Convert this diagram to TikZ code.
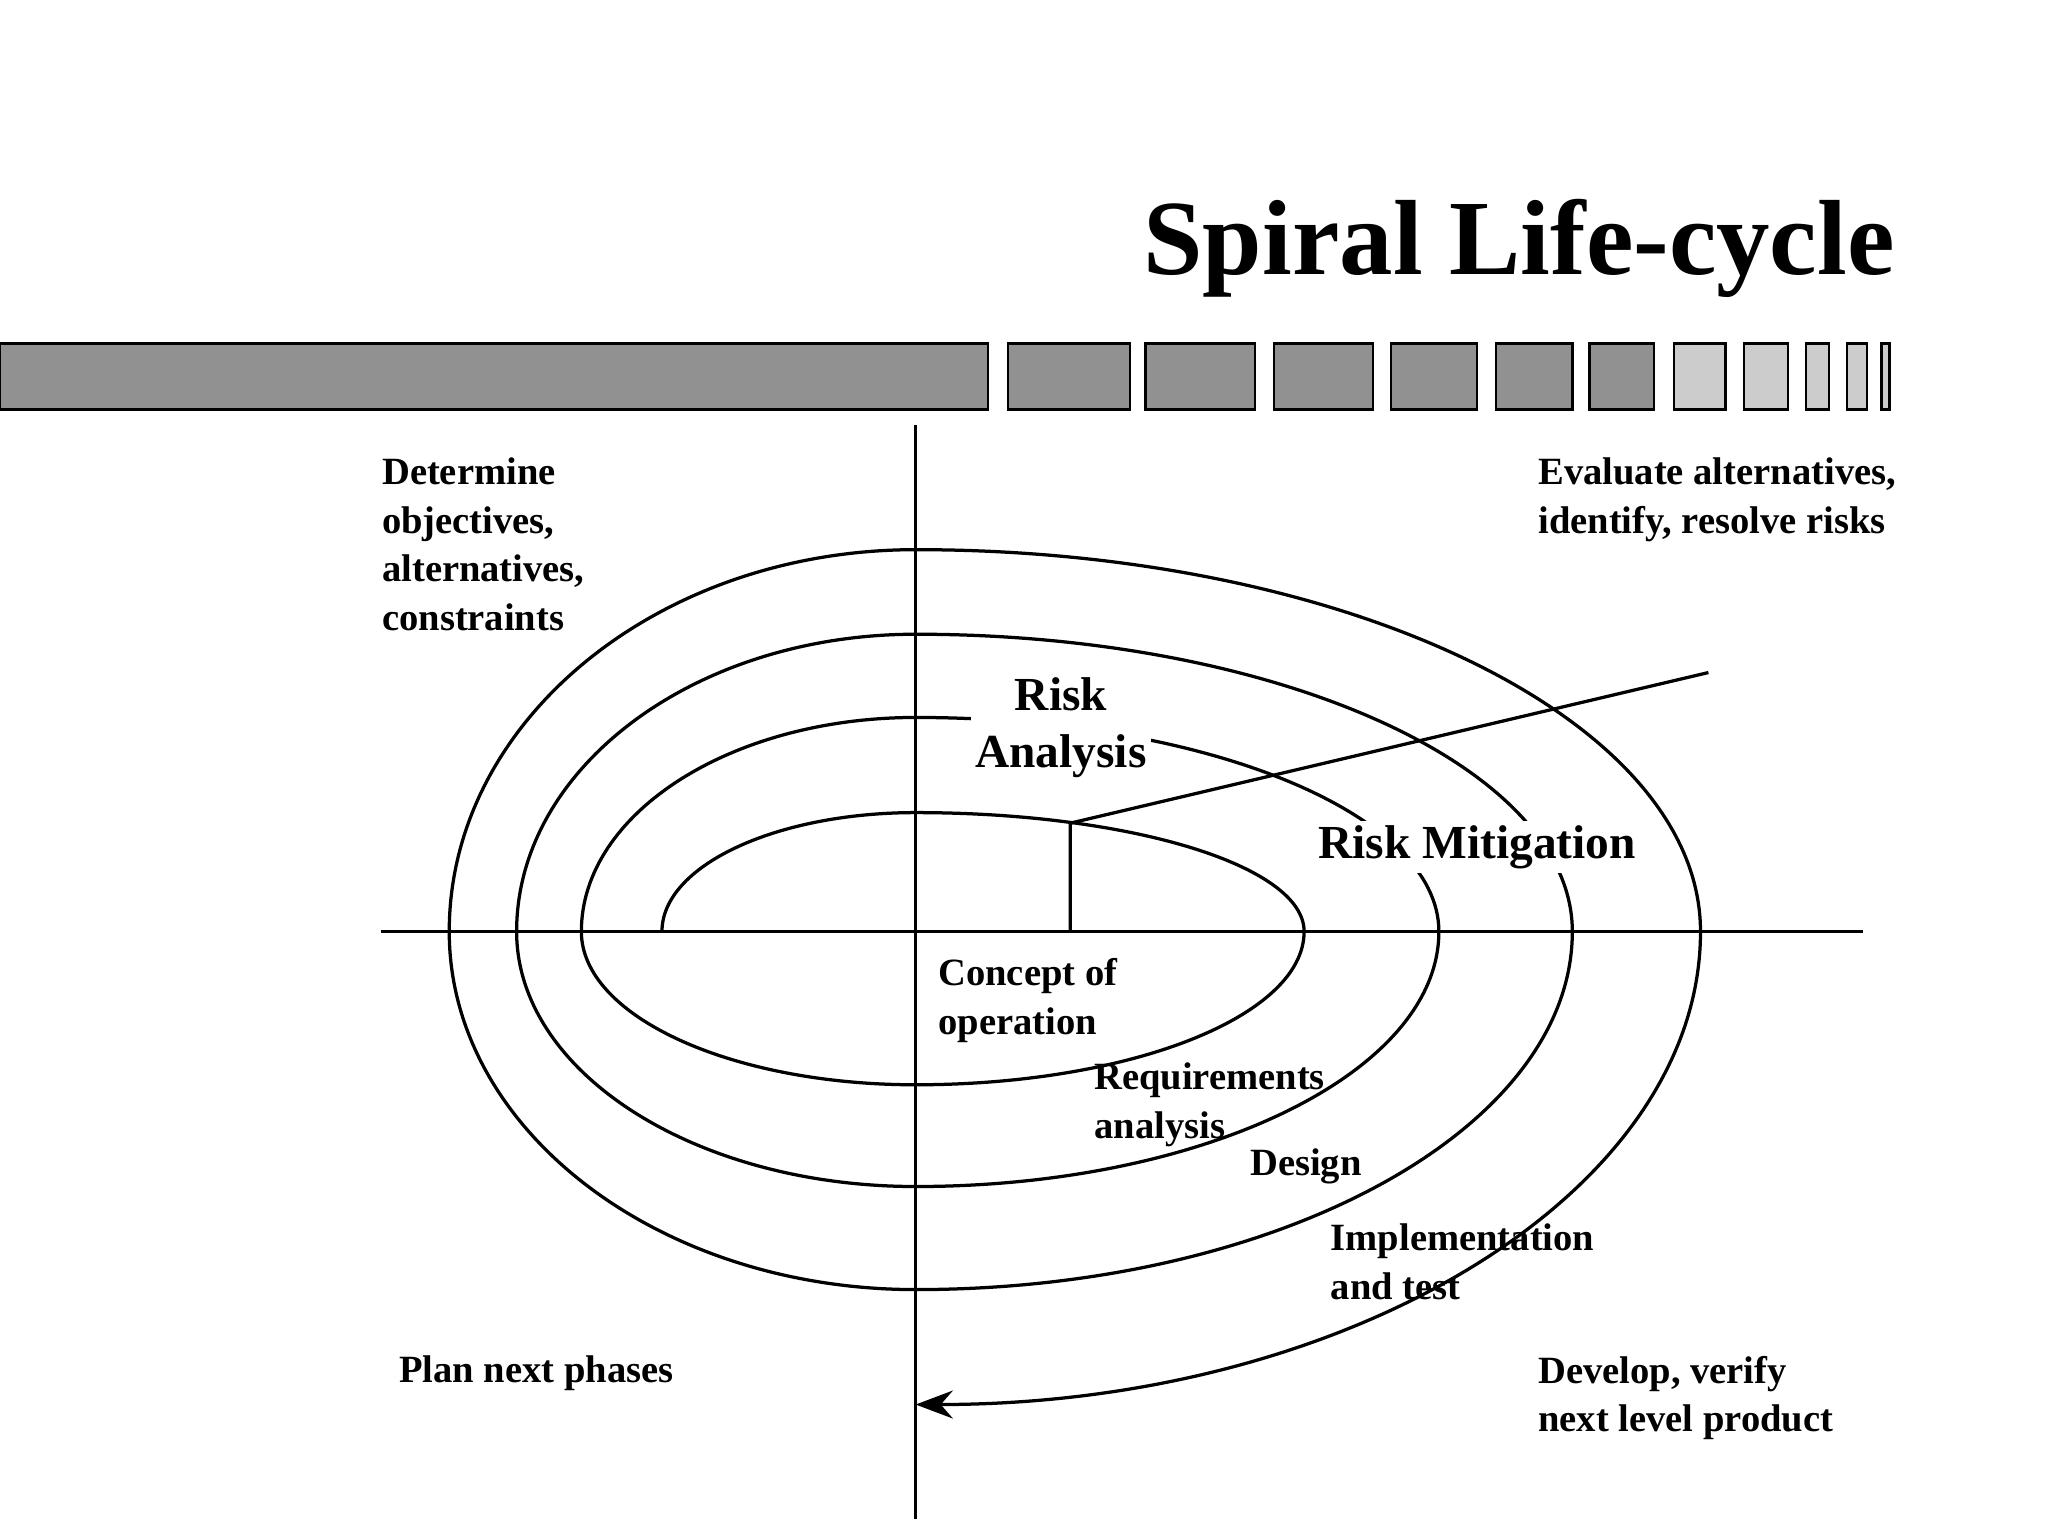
\documentclass[tikz,border=0pt]{standalone}
\usepackage{fontspec}
\setmainfont{Liberation Serif}
\usetikzlibrary{arrows.meta}
\begin{document}
\begin{tikzpicture}[x=0.01cm,y=0.01cm,line width=0.7pt,
  lbl/.style={anchor=north west,inner sep=0pt,align=left,font=\fontsize{8.3}{10.5}\selectfont\bfseries},
  big/.style={fill=white,inner sep=1pt,align=center,font=\fontsize{10.2}{12.3}\selectfont\bfseries},
  dark/.style={draw,fill=black!43,line width=0.5pt},
  light/.style={draw,fill=black!20,line width=0.5pt}]
\useasboundingbox (0,0) rectangle (1550,1162);
% title and bar
\node (title) at (1435,974) [anchor=east,inner sep=0pt,font=\fontsize{23}{26}\selectfont\bfseries] {Spiral Life-cycle};
\foreach \a/\b in {0/748,763/855,867/950,964/1039,1053/1118,1132/1190,1203/1252}
  \draw[dark] (\a,852) rectangle (\b,902);
\foreach \a/\b in {1267/1306,1320/1353,1367/1384,1398/1413,1424/1430}
  \draw[light] (\a,852) rectangle (\b,902);
% axes
\coordinate (o) at (693,457);
\draw (693,840) -- (693,12);
\draw (288,457) -- (1410,457);
% spiral
\draw (501,457) arc[start angle=180,end angle=90,x radius=192,y radius=90]
  arc[start angle=90,end angle=0,x radius=294,y radius=90]
  arc[start angle=0,end angle=-90,x radius=294,y radius=116]
  arc[start angle=-90,end angle=-180,x radius=253,y radius=116]
  arc[start angle=180,end angle=90,x radius=253,y radius=162]
  arc[start angle=90,end angle=0,x radius=396,y radius=162]
  arc[start angle=0,end angle=-90,x radius=396,y radius=193]
  arc[start angle=-90,end angle=-180,x radius=302,y radius=193]
  arc[start angle=180,end angle=90,x radius=302,y radius=225]
  arc[start angle=90,end angle=0,x radius=497,y radius=225]
  arc[start angle=0,end angle=-90,x radius=497,y radius=271]
  arc[start angle=-90,end angle=-180,x radius=353,y radius=271]
  arc[start angle=180,end angle=90,x radius=353,y radius=289]
  arc[start angle=90,end angle=0,x radius=594,y radius=289];
\draw[-{Stealth[length=8pt,width=6pt]}] (1287,457) arc[start angle=0,end angle=-90,x radius=594,y radius=358];
% risk wedge
\coordinate (w) at (810,539);
\coordinate (wa) at (810,457);
\coordinate (wb) at (1293,653);
\draw (wa) -- (w) -- (wb);
% labels
\node (ra) at (803,611) [big] {Risk\\Analysis};
\node (rm) at (1118,521) [big] {Risk Mitigation};
\node (q1) at (288,817) [lbl] {Determine\\objectives,\\alternatives,\\constraints};
\node (q2) at (1163,817) [lbl] {Evaluate alternatives,\\identify, resolve risks};
\node (q3) at (301,137) [lbl] {Plan next phases};
\node (q4) at (1163,137) [lbl] {Develop, verify\\next level product};
\node (s1) at (709,438) [lbl] {Concept of\\operation};
\node (s2) at (827,359) [lbl] {Requirements\\analysis};
\node (s3) at (945,294) [lbl] {Design};
\node (s4) at (1006,237) [lbl] {Implementation\\and test};
\end{tikzpicture}
\end{document}
